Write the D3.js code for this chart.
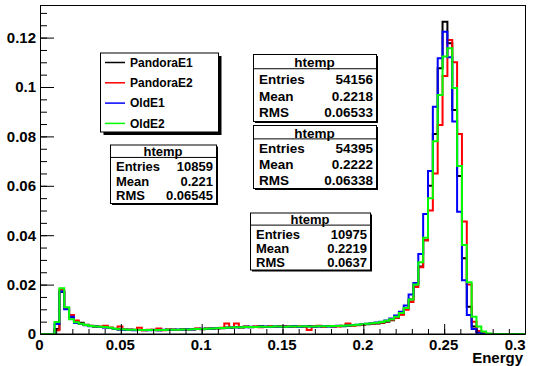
<!DOCTYPE html>
<html>
<head>
<meta charset="utf-8">
<script src="https://cdn.jsdelivr.net/npm/d3@7"></script>
<style>
body { margin: 0; background: #fff; }
svg { display: block; }
text { font-family: "Liberation Sans", Arial, Helvetica, sans-serif; font-weight: bold; }
</style>
</head>
<body>
<svg id="chart" width="536" height="366"></svg>
<script>
// histogram binning (100 bins from 0 to 0.3)
const binWidth = 0.003;

const pandoraE1 = [
  0, 0, 0, 0.0020, 0.0170, 0.0105, 0.0068, 0.0050, 0.0046, 0.0037,
  0.0033, 0.0030, 0.0028, 0.0027, 0.0024, 0.0021, 0.0018, 0.0018, 0.0016, 0.0017,
  0.0016, 0.0015, 0.0016, 0.0017, 0.0015, 0.0016, 0.0018, 0.0017, 0.0016, 0.0019,
  0.0018, 0.0019, 0.0021, 0.0019, 0.0022, 0.0021, 0.0024, 0.0023, 0.0026, 0.0025,
  0.0028, 0.0026, 0.0030, 0.0027, 0.0029, 0.0031, 0.0028, 0.0030, 0.0029, 0.0031,
  0.0028, 0.0030, 0.0031, 0.0029, 0.0030, 0.0032, 0.0029, 0.0031, 0.0030, 0.0031,
  0.0030, 0.0032, 0.0031, 0.0033, 0.0034, 0.0036, 0.0037, 0.0039, 0.0041, 0.0043,
  0.0046, 0.0050, 0.0056, 0.0066, 0.0080, 0.0102, 0.0140, 0.0200, 0.0273, 0.0380,
  0.0600, 0.0810, 0.1076, 0.1264, 0.1177, 0.0907, 0.0640, 0.0307, 0.0110, 0.0030,
  0.0008, 0.0002, 0, 0, 0, 0, 0, 0, 0, 0
];
const pandoraE2 = [
  0, 0, 0, 0.0015, 0.0178, 0.0102, 0.0077, 0.0055, 0.0042, 0.0036,
  0.0032, 0.0029, 0.0030, 0.0033, 0.0026, 0.0020, 0.0030, 0.0017, 0.0018, 0.0016,
  0.0025, 0.0015, 0.0017, 0.0016, 0.0022, 0.0015, 0.0017, 0.0018, 0.0016, 0.0018,
  0.0019, 0.0018, 0.0022, 0.0020, 0.0021, 0.0023, 0.0022, 0.0025, 0.0043, 0.0026,
  0.0043, 0.0027, 0.0029, 0.0028, 0.0030, 0.0027, 0.0029, 0.0031, 0.0028, 0.0030,
  0.0032, 0.0029, 0.0028, 0.0031, 0.0030, 0.0016, 0.0030, 0.0033, 0.0029, 0.0032,
  0.0031, 0.0030, 0.0033, 0.0043, 0.0033, 0.0035, 0.0036, 0.0040, 0.0042, 0.0044,
  0.0047, 0.0052, 0.0058, 0.0066, 0.0078, 0.0098, 0.0130, 0.0190, 0.0270, 0.0380,
  0.0500, 0.0650, 0.0846, 0.1045, 0.1190, 0.1100, 0.0810, 0.0455, 0.0200, 0.0050,
  0.0012, 0.0003, 0, 0, 0, 0, 0, 0, 0, 0
];
const oldE1 = [
  0, 0, 0, 0.0040, 0.0172, 0.0100, 0.0070, 0.0045, 0.0040, 0.0035,
  0.0031, 0.0030, 0.0028, 0.0026, 0.0024, 0.0020, 0.0018, 0.0016, 0.0017, 0.0015,
  0.0016, 0.0016, 0.0015, 0.0016, 0.0015, 0.0017, 0.0016, 0.0017, 0.0018, 0.0017,
  0.0019, 0.0018, 0.0020, 0.0021, 0.0020, 0.0022, 0.0023, 0.0024, 0.0024, 0.0026,
  0.0026, 0.0028, 0.0027, 0.0029, 0.0028, 0.0029, 0.0030, 0.0028, 0.0030, 0.0029,
  0.0030, 0.0029, 0.0031, 0.0028, 0.0031, 0.0030, 0.0029, 0.0030, 0.0032, 0.0030,
  0.0031, 0.0033, 0.0032, 0.0034, 0.0036, 0.0037, 0.0039, 0.0042, 0.0044, 0.0047,
  0.0050, 0.0055, 0.0063, 0.0075, 0.0090, 0.0115, 0.0160, 0.0206, 0.0324, 0.0486,
  0.0660, 0.0920, 0.1116, 0.1224, 0.1120, 0.0860, 0.0495, 0.0218, 0.0077, 0.0020,
  0.0005, 0, 0, 0, 0, 0, 0, 0, 0, 0
];
const oldE2 = [
  0, 0, 0, 0.0049, 0.0185, 0.0108, 0.0060, 0.0048, 0.0042, 0.0036,
  0.0032, 0.0030, 0.0029, 0.0028, 0.0025, 0.0021, 0.0019, 0.0018, 0.0017, 0.0017,
  0.0016, 0.0016, 0.0016, 0.0016, 0.0016, 0.0016, 0.0017, 0.0017, 0.0017, 0.0018,
  0.0018, 0.0019, 0.0020, 0.0020, 0.0021, 0.0022, 0.0023, 0.0024, 0.0025, 0.0026,
  0.0027, 0.0027, 0.0028, 0.0028, 0.0028, 0.0029, 0.0029, 0.0029, 0.0030, 0.0030,
  0.0029, 0.0030, 0.0030, 0.0030, 0.0031, 0.0030, 0.0030, 0.0031, 0.0031, 0.0031,
  0.0032, 0.0032, 0.0033, 0.0034, 0.0035, 0.0037, 0.0039, 0.0041, 0.0044, 0.0046,
  0.0049, 0.0054, 0.0060, 0.0070, 0.0085, 0.0105, 0.0140, 0.0200, 0.0290, 0.0390,
  0.0550, 0.0780, 0.0968, 0.1123, 0.1157, 0.0996, 0.0680, 0.0360, 0.0210, 0.0070,
  0.0030, 0.0010, 0.0002, 0, 0, 0, 0, 0, 0, 0
];

const seriesNames = ["PandoraE1", "PandoraE2", "OldE1", "OldE2"];
const seriesValues = [pandoraE1, pandoraE2, oldE1, oldE2];
const seriesColors = ["#000000", "#ff0000", "#0000ff", "#00ff00"];

// stats box contents
const statEntries = ["54156", "54395", "10859", "10975"];
const statMeans = ["0.2218", "0.2222", "0.221", "0.2219"];
const statRms = ["0.06533", "0.06338", "0.06545", "0.0637"];

const xTickValues = [0, 0.05, 0.1, 0.15, 0.2, 0.25, 0.3];
const xTickLabels = ["0", "0.05", "0.1", "0.15", "0.2", "0.25", "0.3"];
const yTickValues = [0, 0.02, 0.04, 0.06, 0.08, 0.1, 0.12];
const yTickLabels = ["0", "0.02", "0.04", "0.06", "0.08", "0.1", "0.12"];

var svg = d3.select("#chart");

var margin = { top: 5, right: 11, bottom: 32, left: 40 },
    width = 536 - margin.left - margin.right,
    height = 366 - margin.top - margin.bottom;

var x = d3.scaleLinear().domain([0, 0.3]).range([0, width]);
var y = d3.scaleLinear().domain([0, 0.1332]).range([height, 0]);

var g = svg.append("g")
    .attr("transform", "translate(" + margin.left + "," + margin.top + ")");

g.append("defs").append("clipPath")
    .attr("id", "clip")
    .append("rect")
    .attr("width", width)
    .attr("height", height);

// histograms as step outlines
var line = d3.line()
    .x(function (d) { return x(d[0]); })
    .y(function (d) { return y(d[1]); });

var plot = g.append("g").attr("clip-path", "url(#clip)");

seriesValues.forEach(function (vals, k) {
    var pts = [[0, 0]];
    vals.forEach(function (v, i) {
        pts.push([i * binWidth, v]);
        pts.push([(i + 1) * binWidth, v]);
    });
    pts.push([vals.length * binWidth, 0]);
    plot.append("path")
        .attr("d", line(pts))
        .attr("fill", "none")
        .attr("stroke", seriesColors[k])
        .attr("stroke-width", 2)
        .attr("stroke-linejoin", "miter");
});

// frame
g.append("rect")
    .attr("x", 0.5).attr("y", 0.5)
    .attr("width", width).attr("height", height - 0.5)
    .attr("fill", "none")
    .attr("stroke", "#000");

// x axis, ticks inside
var xMinor = d3.axisBottom(x).tickValues(d3.range(0, 31).map(function (i) { return i / 100; }))
    .tickSize(-5).tickSizeOuter(0).tickFormat("");
var xMajor = d3.axisBottom(x).tickValues(xTickValues)
    .tickSize(-10).tickSizeOuter(0).tickPadding(5)
    .tickFormat(function (d, i) { return xTickLabels[i]; });

g.append("g").attr("transform", "translate(0," + height + ")").call(xMinor);
var gX = g.append("g").attr("transform", "translate(0," + height + ")").call(xMajor);
gX.selectAll("text").attr("font-size", 15).attr("fill", "#000")
    .attr("text-anchor", function (d, i) { return i === xTickValues.length - 1 ? "end" : "middle"; })
    .attr("dx", function (d, i) { return i === xTickValues.length - 1 ? 0 : -1; });

// y axis
var yMinor = d3.axisLeft(y).tickValues(d3.range(0, 27).map(function (i) { return i * 0.005; }))
    .tickSize(-7).tickSizeOuter(0).tickFormat("");
var yMajor = d3.axisLeft(y).tickValues(yTickValues)
    .tickSize(-14).tickSizeOuter(0).tickPadding(4)
    .tickFormat(function (d, i) { return yTickLabels[i]; });

g.append("g").call(yMinor);
var gY = g.append("g").call(yMajor);
gY.selectAll("text").attr("font-size", 15).attr("fill", "#000");

g.selectAll(".domain").attr("stroke", "#000");
g.selectAll(".tick line").attr("stroke", "#000");

// axis title
svg.append("text")
    .attr("x", 523).attr("y", 363)
    .attr("text-anchor", "end")
    .attr("font-size", 15)
    .text("Energy");

// legend
var leg = { x: 100, y: 52.5, w: 118, h: 79, shadow: 3.5 };
var legend = svg.append("g");
legend.append("rect")
    .attr("x", leg.x + leg.shadow).attr("y", leg.y + leg.shadow)
    .attr("width", leg.w).attr("height", leg.h).attr("fill", "#000");
legend.append("rect")
    .attr("x", leg.x + 0.5).attr("y", leg.y + 0.5)
    .attr("width", leg.w).attr("height", leg.h)
    .attr("fill", "#fff").attr("stroke", "#000");

seriesNames.forEach(function (name, k) {
    var cy = leg.y + 10 + k * 20.3;
    legend.append("line")
        .attr("x1", leg.x + 5).attr("x2", leg.x + 25)
        .attr("y1", cy).attr("y2", cy)
        .attr("stroke", seriesColors[k]).attr("stroke-width", 1.5);
    legend.append("text")
        .attr("x", leg.x + 30).attr("y", cy)
        .attr("dy", "0.36em")
        .attr("font-size", 12)
        .text(name);
});

// stats boxes
var statBoxes = [
    { x: 253, y: 54, w: 123, h: 67, fs: 13.5 },
    { x: 253, y: 125, w: 123, h: 63, fs: 13.5 },
    { x: 110, y: 144.5, w: 106, h: 58.5, fs: 13 },
    { x: 250, y: 212.5, w: 120, h: 57, fs: 13 }
];

statBoxes.forEach(function (b, k) {
    var box = svg.append("g");
    box.append("rect")
        .attr("x", b.x + 2).attr("y", b.y + 2)
        .attr("width", b.w).attr("height", b.h).attr("fill", "#000");
    box.append("rect")
        .attr("x", b.x + 0.5).attr("y", b.y + 0.5)
        .attr("width", b.w).attr("height", b.h)
        .attr("fill", "#fff").attr("stroke", "#000");
    var row = b.h / 4;
    box.append("line")
        .attr("x1", b.x).attr("x2", b.x + b.w)
        .attr("y1", b.y + row * 0.85 + 0.5).attr("y2", b.y + row * 0.85 + 0.5)
        .attr("stroke", "#000");
    box.append("text")
        .attr("x", b.x + b.w / 2).attr("y", b.y + row * 0.5)
        .attr("dy", "0.36em").attr("text-anchor", "middle")
        .attr("font-size", b.fs).text("htemp");
    var labels = ["Entries", "Mean", "RMS"];
    var values = [statEntries[k], statMeans[k], statRms[k]];
    labels.forEach(function (lab, j) {
        var cy = b.y + row * (j + 1.5);
        box.append("text")
            .attr("x", b.x + 6).attr("y", cy).attr("dy", "0.36em")
            .attr("font-size", b.fs).text(lab);
        box.append("text")
            .attr("x", b.x + b.w - 3).attr("y", cy).attr("dy", "0.36em")
            .attr("text-anchor", "end")
            .attr("font-size", b.fs).text(values[j]);
    });
});
</script>
</body>
</html>
